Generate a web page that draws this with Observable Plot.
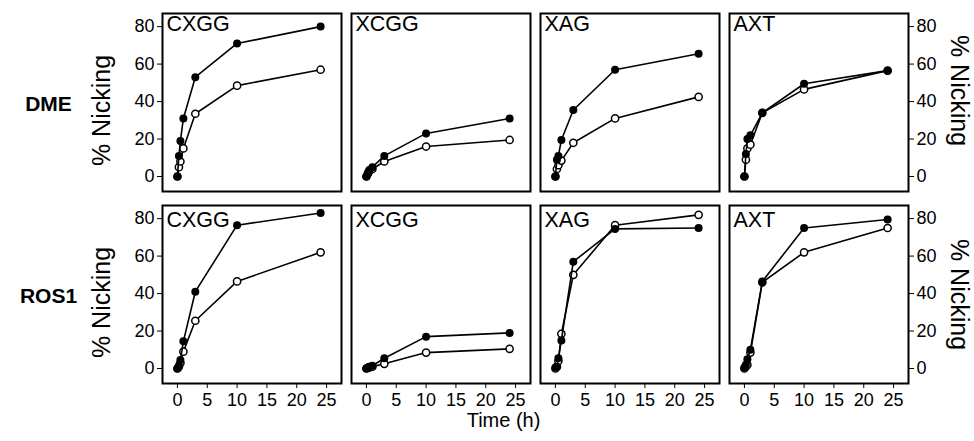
<!DOCTYPE html>
<html>
<head>
<meta charset="utf-8">
<script src="https://cdn.jsdelivr.net/npm/d3@7"></script>
<script src="https://cdn.jsdelivr.net/npm/@observablehq/plot@0.6"></script>
<style>
  html, body { margin: 0; padding: 0; background: #fff; }
</style>
</head>
<body>
<div id="chart"></div>
<script>
// Time points (h)
const times = [0, 0.25, 0.5, 1, 3, 10, 24];
const enzymes = ["DME", "ROS1"];
const substrates = ["CXGG", "XCGG", "XAG", "AXT"];
const xTicks = [0, 5, 10, 15, 20, 25];
const yTicks = [0, 20, 40, 60, 80];

// % Nicking, filled-circle series
const dme_CXGG_filled = [0, 11, 19, 31, 53, 71, 80];
const dme_XCGG_filled = [0, 2, 3.5, 5, 11, 23, 31];
const dme_XAG_filled  = [0, 9, 11, 19.5, 35.5, 57, 65.5];
const dme_AXT_filled  = [0, 12, 20, 22, 34, 49.5, 56.5];
const ros1_CXGG_filled = [0, 1.5, 4.5, 14.5, 41, 76.5, 83];
const ros1_XCGG_filled = [0, 0.5, 1, 1.5, 5.5, 17, 19];
const ros1_XAG_filled  = [0.5, 1, 5.5, 15, 57, 74.5, 75];
const ros1_AXT_filled  = [0.5, 2, 5, 10, 46.5, 75, 79.5];

// % Nicking, open-circle series
const dme_CXGG_open = [0, 5, 8, 15, 33.5, 48.5, 57];
const dme_XCGG_open = [0, 1.5, 3, 4, 8, 16, 19.5];
const dme_XAG_open  = [0, 4, 6, 8.5, 18, 31, 42.5];
const dme_AXT_open  = [0, 9, 15, 17, 34, 46.5, 56.5];
const ros1_CXGG_open = [0, 1, 3, 9, 25.5, 46.5, 62];
const ros1_XCGG_open = [0, 0.3, 0.6, 1, 2.5, 8.5, 10.5];
const ros1_XAG_open  = [0, 1, 4, 18.5, 50, 76.5, 82];
const ros1_AXT_open  = [0, 1, 2, 8.5, 46, 62, 75];

const seriesTable = [
  ["DME", "CXGG", dme_CXGG_filled, dme_CXGG_open],
  ["DME", "XCGG", dme_XCGG_filled, dme_XCGG_open],
  ["DME", "XAG", dme_XAG_filled, dme_XAG_open],
  ["DME", "AXT", dme_AXT_filled, dme_AXT_open],
  ["ROS1", "CXGG", ros1_CXGG_filled, ros1_CXGG_open],
  ["ROS1", "XCGG", ros1_XCGG_filled, ros1_XCGG_open],
  ["ROS1", "XAG", ros1_XAG_filled, ros1_XAG_open],
  ["ROS1", "AXT", ros1_AXT_filled, ros1_AXT_open]
];

const rows = [];
for (const [enz, sub, filled, open] of seriesTable) {
  times.forEach((t, i) => {
    rows.push({enzyme: enz, substrate: sub, kind: "open", time: t, value: open[i], key: enz + sub + "open"});
    rows.push({enzyme: enz, substrate: sub, kind: "filled", time: t, value: filled[i], key: enz + sub + "filled"});
  });
}
const openRows = rows.filter(d => d.kind === "open");
const filledRows = rows.filter(d => d.kind === "filled");

const panelLabels = [];
for (const e of enzymes) for (const s of substrates) panelLabels.push({enzyme: e, substrate: s});
const leftLabels = enzymes.map(e => ({enzyme: e, substrate: "CXGG"}));
const rightLabels = enzymes.map(e => ({enzyme: e, substrate: "AXT"}));

const font = "'Liberation Sans', Arial, Helvetica, sans-serif";

const chart = Plot.plot({
  width: 974,
  height: 441,
  marginLeft: 161,
  marginRight: 66,
  marginTop: 13,
  marginBottom: 58,
  style: {fontFamily: font, fontSize: "17px", color: "#000", background: "#fff", overflow: "visible"},
  fx: {domain: substrates, paddingInner: 0.054, paddingOuter: 0, axis: null},
  fy: {domain: enzymes, paddingInner: 0.075, paddingOuter: 0, axis: null},
  x: {domain: [-2.5, 27.5]},
  y: {domain: [-8, 87]},
  marks: [
    Plot.axisX({ticks: xTicks, tickSize: 5, tickPadding: 5, label: null, fontSize: 18}),
    Plot.axisY({anchor: "left", ticks: yTicks, tickSize: 5, tickPadding: 3, label: null, fontSize: 18}),
    Plot.axisY({anchor: "right", ticks: yTicks, tickSize: 5, tickPadding: 3, label: null, fontSize: 18}),
    Plot.line(openRows, {x: "time", y: "value", z: "key", fx: "substrate", fy: "enzyme", stroke: "#000", strokeWidth: 1.6}),
    Plot.dot(openRows, {x: "time", y: "value", fx: "substrate", fy: "enzyme", r: 3.6, fill: "#fff", stroke: "#000", strokeWidth: 1.5}),
    Plot.line(filledRows, {x: "time", y: "value", z: "key", fx: "substrate", fy: "enzyme", stroke: "#000", strokeWidth: 1.6}),
    Plot.dot(filledRows, {x: "time", y: "value", fx: "substrate", fy: "enzyme", r: 4, fill: "#000", stroke: "none"}),
    Plot.frame({stroke: "#000", strokeWidth: 2}),
    Plot.text(panelLabels.filter(d => d.enzyme === "DME"), {fx: "substrate", fy: "enzyme", text: "substrate", frameAnchor: "top-left", textAnchor: "start", lineAnchor: "top", dx: 4, dy: 2, fontSize: 21.5, fill: "#000"}),
    Plot.text(panelLabels.filter(d => d.enzyme === "ROS1"), {fx: "substrate", fy: "enzyme", text: "substrate", frameAnchor: "top-left", textAnchor: "start", lineAnchor: "top", dx: 4, dy: 6, fontSize: 21.5, fill: "#000"}),
    Plot.text(leftLabels, {fx: "substrate", fy: "enzyme", text: d => "% Nicking", frameAnchor: "left", textAnchor: "middle", lineAnchor: "middle", rotate: -90, dx: -61, dy: 8, fontSize: 25, fill: "#000"}),
    Plot.text(rightLabels.filter(d => d.enzyme === "DME"), {fx: "substrate", fy: "enzyme", text: d => "% Nicking", frameAnchor: "right", textAnchor: "middle", lineAnchor: "middle", rotate: 90, dx: 50, dy: -12, fontSize: 25, fill: "#000"}),
    Plot.text(rightLabels.filter(d => d.enzyme === "ROS1"), {fx: "substrate", fy: "enzyme", text: d => "% Nicking", frameAnchor: "right", textAnchor: "middle", lineAnchor: "middle", rotate: 90, dx: 50, dy: 0, fontSize: 25, fill: "#000"}),
    Plot.text(leftLabels, {fx: "substrate", fy: "enzyme", text: "enzyme", frameAnchor: "left", textAnchor: "middle", lineAnchor: "middle", dx: -114, dy: 2, fontSize: 21, fontWeight: "bold", fill: "#000"}),
    Plot.text([{enzyme: "ROS1", substrate: "XCGG"}], {fx: "substrate", fy: "enzyme", text: d => "Time (h)", frameAnchor: "bottom-right", textAnchor: "middle", lineAnchor: "middle", dx: -27, dy: 37, fontSize: 20, fill: "#000"})
  ]
});

document.getElementById("chart").appendChild(chart);
</script>
</body>
</html>
